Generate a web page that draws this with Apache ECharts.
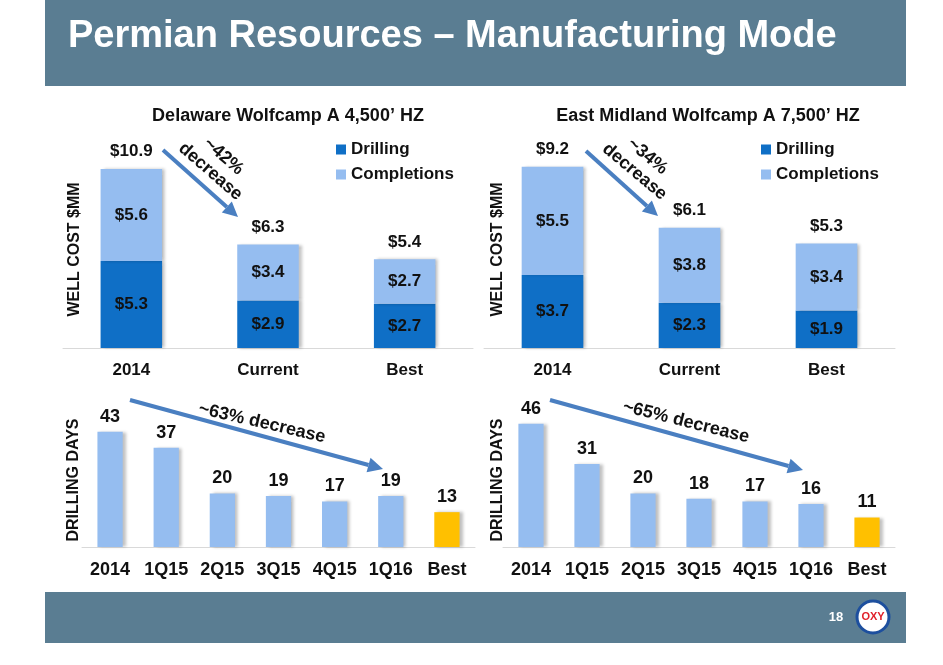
<!DOCTYPE html>
<html>
<head>
<meta charset="utf-8">
<title>Permian Resources</title>
<script src="https://cdn.jsdelivr.net/npm/echarts@6/dist/echarts.min.js"></script>
<style>
  html, body { margin: 0; padding: 0; background: #fff; }
  #main { width: 943px; height: 665px; }
</style>
</head>
<body>
<div id="main"></div>
<script>
// well cost, $MM
const costCats = ['2014', 'Current', 'Best'];
const delDrilling = [5.3, 2.9, 2.7];
const delCompletions = [5.6, 3.4, 2.7];
const midDrilling = [3.7, 2.3, 1.9];
const midCompletions = [5.5, 3.8, 3.4];

// drilling days
const dayCats = ['2014', '1Q15', '2Q15', '3Q15', '4Q15', '1Q16', 'Best'];
const delDays = [43, 37, 20, 19, 17, 19, 13];
const midDays = [46, 31, 20, 18, 17, 16, 11];

const FONT = '"Liberation Sans", Arial, sans-serif';
const DARK = '#0f6fc6';
const LIGHT = '#95bdf0';
const GOLD = '#ffc000';
const SLATE = '#5a7d92';
const ARROW = '#4a7fc1';

const total = (a, b) => a.map((v, i) => +(v + b[i]).toFixed(1));
const money = p => '$' + Number(p.value).toFixed(1);
const shadow = { shadowColor: 'rgba(0,0,0,0.25)', shadowBlur: 3, shadowOffsetX: 3 };

const myChart = echarts.init(document.getElementById('main'));

function arrow(x1, y1, x2, y2) {
  const a = Math.atan2(y2 - y1, x2 - x1);
  const L = 15, W = 7.5;
  const bx = x2 - L * Math.cos(a), by = y2 - L * Math.sin(a);
  return [
    { type: 'line', shape: { x1, y1, x2: bx, y2: by }, style: { stroke: ARROW, lineWidth: 4 } },
    { type: 'polygon', shape: { points: [[x2, y2], [bx + W * Math.sin(a), by - W * Math.cos(a)], [bx - W * Math.sin(a), by + W * Math.cos(a)]] }, style: { fill: ARROW } }
  ];
}

function note(text, x, y, deg) {
  return {
    type: 'text', x, y, rotation: -deg * Math.PI / 180,
    style: { text, fill: '#111', font: 'bold 18px ' + FONT, align: 'center', verticalAlign: 'middle', lineHeight: 20 }
  };
}

function xAxis(grid, data, size) {
  return {
    type: 'category', gridIndex: grid, data,
    axisLine: { lineStyle: { color: '#d9d9d9' } },
    axisTick: { show: false },
    axisLabel: { interval: 0, color: '#111', fontFamily: FONT, fontWeight: 'bold', fontSize: size, margin: 14 }
  };
}

function yAxis(grid, max, name, gap) {
  return {
    type: 'value', gridIndex: grid, min: 0, max,
    axisLine: { show: false }, axisTick: { show: false },
    axisLabel: { show: false }, splitLine: { show: false },
    name, nameLocation: 'middle', nameGap: gap,
    nameTextStyle: { color: '#111', fontFamily: FONT, fontWeight: 'bold', fontSize: 16 }
  };
}

function costSeries(idx, drilling, completions) {
  const lab = { show: true, position: 'inside', formatter: money, color: '#111', fontFamily: FONT, fontWeight: 'bold', fontSize: 17 };
  return [
    { name: 'Drilling', type: 'bar', stack: 's' + idx, xAxisIndex: idx, yAxisIndex: idx, barWidth: '45%',
      data: drilling, itemStyle: Object.assign({ color: DARK }, shadow), label: lab },
    { name: 'Completions', type: 'bar', stack: 's' + idx, xAxisIndex: idx, yAxisIndex: idx,
      data: completions, itemStyle: Object.assign({ color: LIGHT }, shadow), label: lab },
    { type: 'scatter', xAxisIndex: idx, yAxisIndex: idx, symbolSize: 0, silent: true,
      data: total(drilling, completions), itemStyle: { opacity: 1 },
      label: { show: true, position: 'top', distance: 9, formatter: money, color: '#111', fontFamily: FONT, fontWeight: 'bold', fontSize: 17 } }
  ];
}

function daySeries(idx, days) {
  return {
    type: 'bar', xAxisIndex: idx, yAxisIndex: idx, barWidth: '45%',
    data: days.map((v, i) => ({ value: v, itemStyle: { color: dayCats[i] === 'Best' ? GOLD : LIGHT } })),
    itemStyle: shadow,
    label: { show: true, position: 'top', distance: 6, color: '#111', fontFamily: FONT, fontWeight: 'bold', fontSize: 18 }
  };
}

function legend(left) {
  return {
    data: ['Drilling', 'Completions'], orient: 'vertical', left, top: 136,
    icon: 'rect', itemWidth: 10, itemHeight: 10, itemGap: 8, selectedMode: false,
    textStyle: { color: '#111', fontFamily: FONT, fontWeight: 'bold', fontSize: 17 }
  };
}

const chartTitle = (text, x) => ({
  text, left: x, top: 102, textAlign: 'center',
  textStyle: { color: '#111', fontFamily: FONT, fontWeight: 'bold', fontSize: 18 }
});

const option = {
  backgroundColor: '#fff',
  animation: false,
  title: [
    chartTitle('Delaware Wolfcamp A 4,500\u2019 HZ', 283),
    chartTitle('East Midland Wolfcamp A 7,500\u2019 HZ', 703)
  ],
  legend: [legend(331), legend(756)],
  grid: [
    { left: 63, top: 151, width: 410, height: 197 },
    { left: 484, top: 151, width: 411, height: 197 },
    { left: 82, top: 413, width: 393, height: 134 },
    { left: 503, top: 413, width: 392, height: 134 }
  ],
  xAxis: [xAxis(0, costCats, 17), xAxis(1, costCats, 17), xAxis(2, dayCats, 18), xAxis(3, dayCats, 18)],
  yAxis: [
    yAxis(0, 12, 'WELL COST $MM', -20),
    yAxis(1, 10, 'WELL COST $MM', -22),
    yAxis(2, 50, 'DRILLING DAYS', 0),
    yAxis(3, 50, 'DRILLING DAYS', -3)
  ],
  series: [
    ...costSeries(0, delDrilling, delCompletions),
    ...costSeries(1, midDrilling, midCompletions),
    daySeries(2, delDays),
    daySeries(3, midDays)
  ],
  graphic: [
    { type: 'rect', shape: { x: 45, y: 0, width: 861, height: 86 }, style: { fill: SLATE } },
    { type: 'text', x: 68, y: 37, style: { text: 'Permian Resources \u2013 Manufacturing Mode', fill: '#fff', font: 'bold 38px ' + FONT, verticalAlign: 'middle' } },
    { type: 'rect', shape: { x: 45, y: 592, width: 861, height: 51 }, style: { fill: SLATE } },
    { type: 'text', x: 836, y: 617, style: { text: '18', fill: '#fff', font: 'bold 13px ' + FONT, align: 'center', verticalAlign: 'middle' } },
    { type: 'circle', shape: { cx: 873, cy: 617, r: 16 }, style: { fill: '#fff', stroke: '#1d4f9e', lineWidth: 3 } },
    { type: 'text', x: 873, y: 617, style: { text: 'OXY', fill: '#e0202a', font: 'bold 11px ' + FONT, align: 'center', verticalAlign: 'middle' } },
    ...arrow(163, 150, 238, 217),
    ...arrow(586, 151, 658, 216),
    ...arrow(130, 400, 383, 469),
    ...arrow(550, 400, 803, 470),
    note('~42%\ndecrease', 217, 164, 41),
    note('~34%\ndecrease', 641, 164, 40),
    note('~63% decrease', 262, 423, 13),
    note('~65% decrease', 686, 422, 14)
  ]
};

myChart.setOption(option);
</script>
</body>
</html>
